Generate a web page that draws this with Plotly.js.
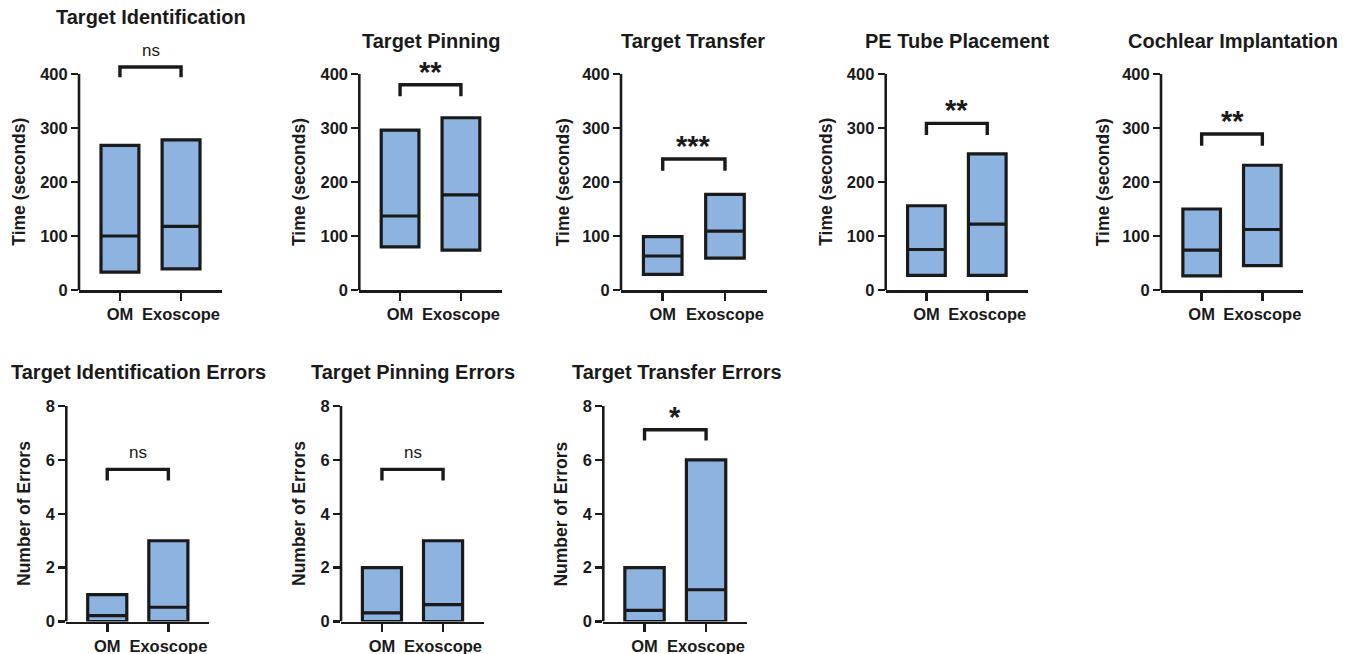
<!DOCTYPE html>
<html><head><meta charset="utf-8">
<script src="https://cdn.plot.ly/plotly-3.0.1.min.js"></script>
<style>html,body{margin:0;padding:0;background:#fff}#chart{width:1357px;height:654px}</style>
</head><body><div id="chart"></div>
<script>
// ---------- data ----------
const categories = ['OM', 'Exoscope'];
const panelTitles = ['Target Identification', 'Target Pinning', 'Target Transfer', 'PE Tube Placement',
  'Cochlear Implantation', 'Target Identification Errors', 'Target Pinning Errors', 'Target Transfer Errors'];
const yAxisTitles = ['Time (seconds)', 'Time (seconds)', 'Time (seconds)', 'Time (seconds)', 'Time (seconds)',
  'Number of Errors', 'Number of Errors', 'Number of Errors'];
const omMin     = [33, 80, 29, 27, 26, 0, 0, 0];
const omMedian  = [100, 137, 63, 75, 74, 0.22, 0.32, 0.41];
const omMax     = [268, 296, 99, 156, 150, 1, 2, 2];
const exoMin    = [39, 74, 59, 27, 45, 0, 0, 0];
const exoMedian = [118, 176, 109, 122, 112, 0.53, 0.63, 1.18];
const exoMax    = [278, 319, 177, 252, 231, 3, 3, 6];
const sigLabels  = ['ns', '**', '***', '**', '**', 'ns', 'ns', '*'];
const bracketTop = [413, 380, 242.5, 308.5, 289, 5.65, 5.65, 7.12];
const bracketLeg = [394, 359, 221, 287, 267, 5.24, 5.24, 6.72];
const timeTicks  = [0, 100, 200, 300, 400];
const errorTicks = [0, 2, 4, 6, 8];

// ---------- layout config (positions in px) ----------
const W = 1357, H = 654;
const panelPx = [
  {x0: 79, x1: 222, row: 0, tx: 151, ty: 17.5, ytx: 18.7},
  {x0: 359.3, x1: 501.7, row: 0, tx: 431, ty: 40.5, ytx: 299},
  {x0: 621, x1: 766.7, row: 0, tx: 693, ty: 40.5, ytx: 563.3},
  {x0: 885.7, x1: 1028, row: 0, tx: 957, ty: 40.5, ytx: 825.8},
  {x0: 1161, x1: 1303, row: 0, tx: 1233, ty: 40.5, ytx: 1103.3},
  {x0: 66.3, x1: 209.3, row: 1, tx: 138, ty: 372, ytx: 24.2},
  {x0: 341, x1: 484, row: 1, tx: 413, ty: 372, ytx: 299.2},
  {x0: 603.3, x1: 747.3, row: 1, tx: 677, ty: 372, ytx: 560.8}
];
const rows = [
  {bottom: 290, top: 47, range: [0, 450], ticks: timeTicks, boxWidth: 0.62},
  {bottom: 621.5, top: 379.2, range: [0, 9], ticks: errorTicks, boxWidth: 0.64}
];

const INK = '#1a1a1a';
const FILL = '#8db3e0';
const FONT = 'Liberation Sans, Arial, Helvetica, sans-serif';

const data = [];
const layout = {
  width: W, height: H, margin: {l: 0, r: 0, t: 0, b: 0},
  paper_bgcolor: '#fff', plot_bgcolor: '#fff', showlegend: false,
  font: {family: FONT, color: INK},
  shapes: [], annotations: []
};

panelPx.forEach((p, i) => {
  const r = rows[p.row];
  const xs = i === 0 ? '' : String(i + 1);
  const xa = 'x' + xs, ya = 'y' + xs;
  const yMax = r.ticks[r.ticks.length - 1];

  data.push({
    type: 'box', xaxis: xa, yaxis: ya, x: categories,
    q1: [omMin[i], exoMin[i]], lowerfence: [omMin[i], exoMin[i]],
    median: [omMedian[i], exoMedian[i]],
    q3: [omMax[i], exoMax[i]], upperfence: [omMax[i], exoMax[i]],
    boxpoints: false, whiskerwidth: 0, width: r.boxWidth,
    fillcolor: FILL, line: {color: INK, width: 3.2}, hoverinfo: 'skip'
  });
  // significance bracket
  data.push({
    type: 'scatter', mode: 'lines', xaxis: xa, yaxis: ya,
    x: [categories[0], categories[0], categories[1], categories[1]],
    y: [bracketLeg[i], bracketTop[i], bracketTop[i], bracketLeg[i]],
    line: {color: INK, width: 3.4}, hoverinfo: 'skip'
  });

  layout['xaxis' + xs] = {
    domain: [p.x0 / W, p.x1 / W], anchor: ya, type: 'category',
    range: [-0.67, 1.67], showline: true, linecolor: INK, linewidth: 2.6,
    ticks: 'outside', ticklen: 8, tickwidth: 2.6, tickcolor: INK,
    showgrid: false, zeroline: false, fixedrange: true,
    tickfont: {family: FONT, size: 16.5, color: INK, weight: 700}
  };
  layout['yaxis' + xs] = {
    domain: [1 - r.bottom / H, 1 - r.top / H], anchor: xa,
    range: r.range, tickvals: r.ticks, showline: false,
    ticks: 'outside', ticklen: 7, tickwidth: 2.6, tickcolor: INK,
    showgrid: false, zeroline: false, fixedrange: true,
    tickfont: {family: FONT, size: 16.5, color: INK, weight: 700}
  };
  // y spine (only up to the top tick)
  layout.shapes.push({
    type: 'line', xref: xa + ' domain', yref: ya, x0: 0, x1: 0, y0: 0, y1: yMax,
    line: {color: INK, width: 2.6}
  });
  // panel title
  layout.annotations.push({
    xref: 'paper', yref: 'paper', x: p.tx / W, y: 1 - p.ty / H,
    xanchor: 'center', yanchor: 'middle', showarrow: false,
    text: panelTitles[i], font: {family: FONT, size: 20, color: INK, weight: 700}
  });
  // y axis title
  layout.annotations.push({
    xref: 'paper', yref: ya, x: p.ytx / W, y: yMax / 2,
    xanchor: 'center', yanchor: 'middle', showarrow: false, textangle: -90,
    text: yAxisTitles[i], font: {family: FONT, size: 17.5, color: INK, weight: 700}
  });
  // significance label
  const isStar = sigLabels[i] !== 'ns';
  layout.annotations.push({
    xref: xa, yref: ya, x: 0.5, y: bracketTop[i],
    xanchor: 'center', yanchor: 'bottom', showarrow: false,
    yshift: isStar ? -5 : 5,
    text: sigLabels[i],
    font: isStar ? {family: FONT, size: 29, color: INK, weight: 700} : {family: FONT, size: 17, color: INK}
  });
});

Plotly.newPlot('chart', data, layout, {staticPlot: true, displayModeBar: false});
</script>
</body></html>
